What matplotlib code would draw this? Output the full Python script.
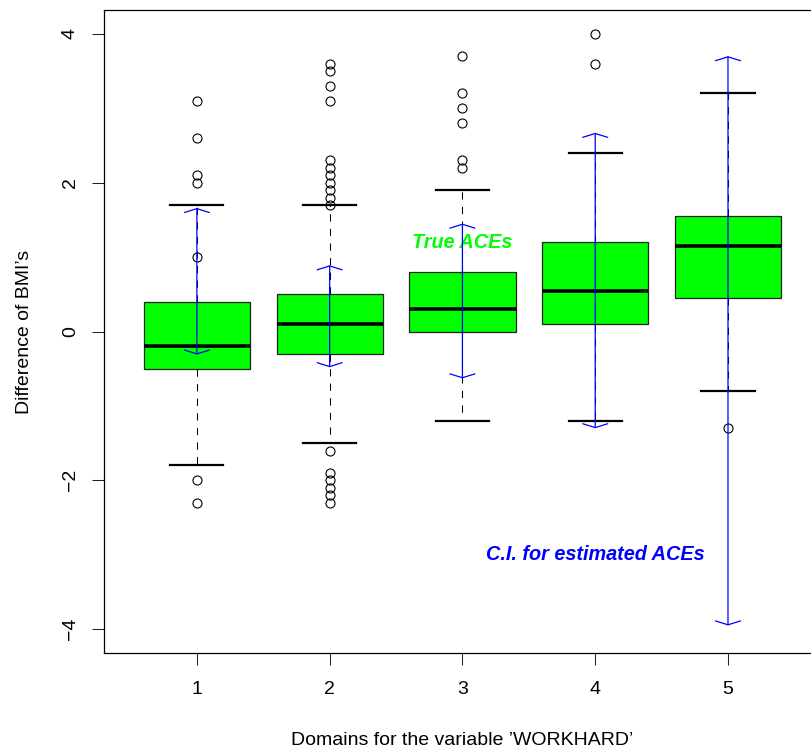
import matplotlib as mpl
import matplotlib.pyplot as plt

mpl.rcParams.update({
    "font.family": ["Liberation Sans", "DejaVu Sans"],
    "font.size": 14,
    "axes.linewidth": 0.9,
    "axes.edgecolor": "black",
})

# ── data ─────────────────────────────────────────────────────────
domains = [1, 2, 3, 4, 5]
q1 = [-0.50, -0.30, 0.00, 0.10, 0.45]
median = [-0.20, 0.10, 0.30, 0.55, 1.15]
q3 = [0.40, 0.50, 0.80, 1.20, 1.55]
whisk_lo = [-1.80, -1.50, -1.20, -1.20, -0.80]
whisk_hi = [1.70, 1.70, 1.90, 2.40, 3.20]
outliers = [
    [3.1, 2.6, 2.1, 2.0, 1.0, -2.0, -2.3],
    [3.6, 3.5, 3.3, 3.1, 2.3, 2.2, 2.1, 2.0, 1.9, 1.8, 1.7,
     -1.6, -1.9, -2.0, -2.1, -2.2, -2.3],
    [3.7, 3.2, 3.0, 2.8, 2.3, 2.2],
    [4.0, 3.6],
    [-1.3],
]
ci_lo = [-0.31, -0.48, -0.63, -1.30, -3.95]
ci_hi = [1.66, 0.89, 1.45, 2.67, 3.70]

GREEN = "#00FF00"
BLUE = "#0000FF"

stats = [
    dict(med=m, q1=a, q3=b, whislo=lo, whishi=hi, fliers=f)
    for m, a, b, lo, hi, f in zip(median, q1, q3, whisk_lo, whisk_hi, outliers)
]

fig = plt.figure(figsize=(8.12, 7.48), dpi=100)
# right edge of the frame sits just off the canvas, as in the reference
ax = fig.add_axes([0.128, 0.127, 0.883, 0.8596])

ax.bxp(
    stats, positions=domains, widths=0.8, capwidths=0.4,
    patch_artist=True, manage_ticks=False,
    boxprops=dict(facecolor=GREEN, edgecolor="#222222", linewidth=0.9),
    medianprops=dict(color="black", linewidth=2.6),
    whiskerprops=dict(color="black", linewidth=0.75, linestyle=(0, (7, 7))),
    capprops=dict(color="black", linewidth=1.6),
    flierprops=dict(marker="o", markersize=6.5, markerfacecolor="none",
                    markeredgecolor="black", markeredgewidth=0.8),
)

# ── confidence intervals for the estimated ACEs ──────────────────
for x, lo, hi in zip(domains, ci_lo, ci_hi):
    ax.annotate(
        "", xy=(x, hi), xytext=(x, lo),
        arrowprops=dict(arrowstyle="<->,head_length=0.28,head_width=0.9",
                        color=BLUE, lw=0.9, shrinkA=0, shrinkB=0,
                        mutation_scale=10),
        zorder=5,
    )

ax.text(3.0, 1.2, "True ACEs", color=GREEN, fontsize=14.3,
        fontweight="bold", fontstyle="italic", ha="center", va="center")
ax.text(4.0, -3.0, "C.I. for estimated ACEs", color=BLUE, fontsize=14.3,
        fontweight="bold", fontstyle="italic", ha="center", va="center")

ax.set_xlim(0.3, 5.7)
ax.set_ylim(-4.32, 4.32)
ax.set_xticks(domains)
ax.set_yticks([-4, -2, 0, 2, 4])
ax.set_yticklabels(["\u22124", "\u22122", "0", "2", "4"])
ax.tick_params(length=8.5, width=0.75, color="#222222")
ax.tick_params(axis="x", pad=12)
ax.tick_params(axis="y", pad=9.5, labelrotation=90)
for lab in ax.get_yticklabels():
    lab.set_va("center")
ax.spines["right"].set_visible(False)

ax.set_xlabel("Domains for the variable \u2019WORKHARD\u2019", labelpad=24)
ax.set_ylabel("Difference of BMI\u2019s", labelpad=21)

fig.savefig("out.png", dpi=100)
